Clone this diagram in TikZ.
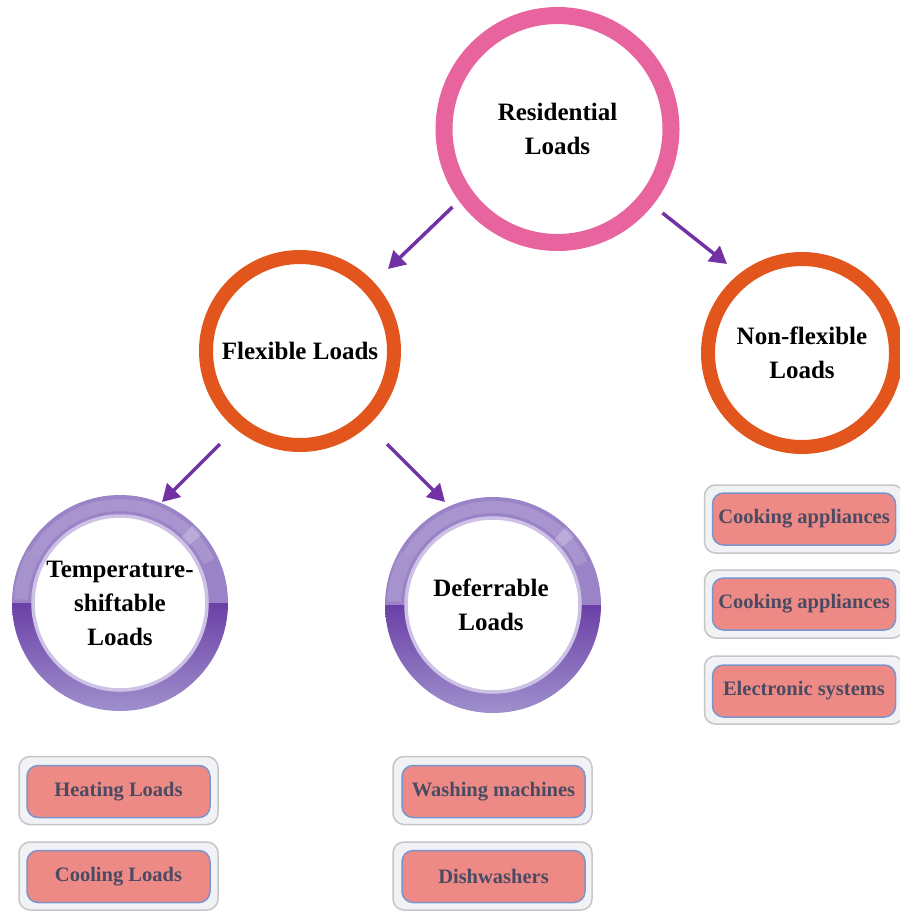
\documentclass[tikz,border=0pt]{standalone}
\usepackage{fontspec}
\setmainfont{Liberation Serif}
\usetikzlibrary{arrows.meta,calc}

\definecolor{ringpink}{HTML}{E7649F}
\definecolor{ringorange}{HTML}{E2561E}
\definecolor{arrowpurple}{HTML}{7232A6}
\definecolor{purpletop}{HTML}{9A83C6}
\definecolor{purpledark}{HTML}{6B40A6}
\definecolor{purplelow}{HTML}{A091CE}
\definecolor{purplerim}{HTML}{CDC2E5}
\definecolor{boxback}{HTML}{F1F2F6}
\definecolor{boxedge}{HTML}{C6C6C6}
\definecolor{salmon}{HTML}{EE8A85}
\definecolor{saledge}{HTML}{7B95CC}
\definecolor{boxtext}{HTML}{4A4A62}

\tikzset{
  ringtext/.style={align=center, font=\fontsize{25}{34}\selectfont\bfseries, text=black},
  pinkring/.style={circle, draw=ringpink, line width=17pt, minimum size=227pt, inner sep=0pt, ringtext},
  orangering/.style={circle, draw=ringorange, line width=14pt, minimum size=188pt, inner sep=0pt, ringtext},
  purplenode/.style={circle, minimum size=216pt, inner sep=0pt, ringtext},
  arr/.style={draw=arrowpurple, line width=3.5pt, -{Triangle[length=17pt,width=19pt]}},
  outerbox/.style={rounded corners=11pt, fill=boxback, draw=boxedge, line width=1.5pt,
    minimum width=199pt, minimum height=68pt, inner sep=0pt},
  innerbox/.style={rounded corners=11pt, fill=salmon, draw=saledge, line width=1.5pt,
    minimum width=183pt, minimum height=52pt, inner sep=0pt, text=boxtext,
    font=\fontsize{20.5}{22}\selectfont\bfseries},
  pics/purplering/.style={code={
    \begin{scope}
      \clip (0,0) circle (108pt);
      % upper half of the ring
      \fill[purpletop] (-110,0) rectangle (110,110);
      % darker lower half, fading towards the bottom
      \shade[top color=purpledark, bottom color=purplelow] (-110,-110) rectangle (110,0);
    \end{scope}
    % glossy highlights
    \fill[white, opacity=0.14] (25:104pt) arc (25:150:104pt) -- (150:92pt) arc (150:25:92pt) -- cycle;
    \fill[white, opacity=0.12] (150:106pt) arc (150:178:106pt) -- (178:92pt) arc (178:150:92pt) -- cycle;
    \fill[white, opacity=0.22] (40:106pt) arc (40:47:106pt) -- (47:90pt) arc (47:40:90pt) -- cycle;
    % white centre with a pale rim
    \fill[white] (0,0) circle (86pt);
    \draw[purplerim, line width=3.5pt] (0,0) circle (87pt);
  }}
}

\begin{document}
\begin{tikzpicture}[x=1pt, y=1pt]
  \useasboundingbox (0,0) rectangle (899,-912);
  \fill[white] (0,0) rectangle (899,-912);

  % main circles
  \node[pinkring] (res) at (557.5,-129) {Residential\\Loads};
  \node[orangering] (flex) at (300,-351) {Flexible Loads};
  \node[orangering] (nonflex) at (802,-353) {Non-flexible\\Loads};

  % purple rings
  \pic at (120,-603) {purplering};
  \pic at (493,-605) {purplering};
  \node[purplenode] (temp) at (120,-603) {Temperature-\\shiftable\\Loads};
  \node[purplenode] (defer) at (491,-605) {Deferrable\\Loads};

  % connectors
  \draw[arr] ($(res)+(-105,-78)$) -- ($(flex)+(88,82)$);
  \draw[arr] ($(res)+(105,-84)$) -- ($(nonflex)+(-75,89)$);
  \draw[arr] ($(flex)+(-80,-93)$) -- ($(temp)+(42,101)$);
  \draw[arr] ($(flex)+(87,-93)$) -- ($(defer)+(-46,103)$);

  % appliance boxes under the temperature-shiftable loads
  \node[outerbox] (heatbg) at (118.5,-790.5) {};
  \node[innerbox] (heat) at (118.5,-791.5) {Heating Loads};
  \node[outerbox] (coolbg) at (118.5,-876) {};
  \node[innerbox] (cool) at (118.5,-876.5) {Cooling Loads};

  % appliance boxes under the deferrable loads
  \node[outerbox] (washbg) at (492.5,-790.5) {};
  \node[innerbox] (wash) at (493.5,-791.5) {Washing machines};
  \node[outerbox] (dishbg) at (492.5,-876) {};
  \node[innerbox] (dish) at (493.5,-876.5) {Dishwashers};

  % appliance boxes under the non-flexible loads
  \node[outerbox] (cookAbg) at (804,-519) {};
  \node[innerbox] (cookA) at (804,-519) {Cooking appliances};
  \node[outerbox] (cookBbg) at (804,-604) {};
  \node[innerbox] (cookB) at (804,-604) {Cooking appliances};
  \node[outerbox] (elecbg) at (804,-690) {};
  \node[innerbox] (elec) at (804,-691) {Electronic systems};
\end{tikzpicture}
\end{document}
